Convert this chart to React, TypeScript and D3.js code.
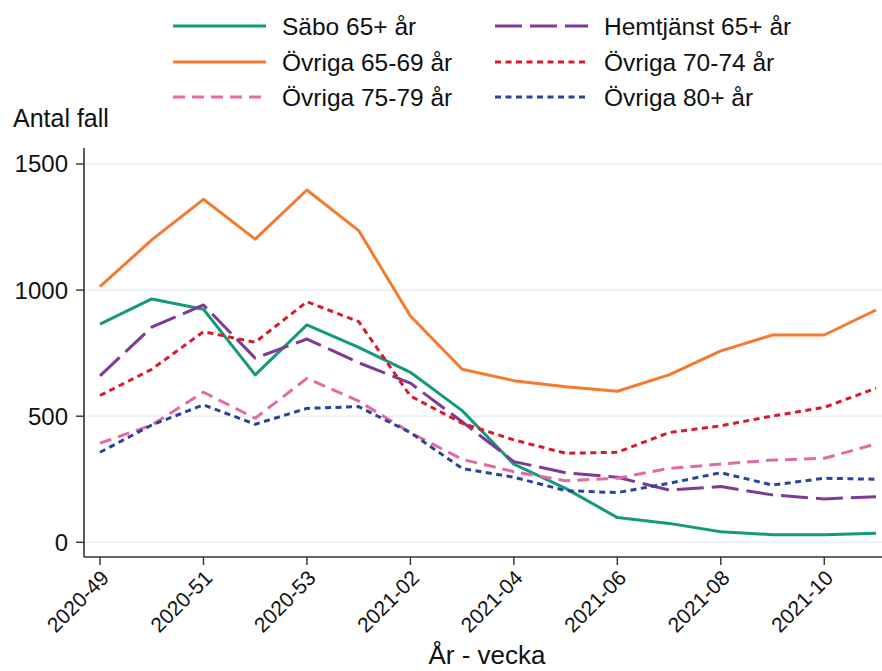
import React from "react";
import * as d3 from "d3";

const weeks = [
  "2020-49", "2020-50", "2020-51", "2020-52", "2020-53",
  "2021-01", "2021-02", "2021-03", "2021-04", "2021-05", "2021-06",
  "2021-07", "2021-08", "2021-09", "2021-10", "2021-11",
];
const tickWeeks = ["2020-49", "2020-51", "2020-53", "2021-02", "2021-04", "2021-06", "2021-08", "2021-10"];
const yTicks = [0, 500, 1000, 1500];

const sabo = [865, 965, 924, 664, 862, 773, 674, 522, 310, 214, 98, 75, 42, 30, 30, 36];
const hemtjanst = [660, 853, 941, 730, 806, 712, 631, 478, 320, 276, 258, 207, 221, 188, 172, 181];
const ovr6569 = [1014, 1199, 1360, 1202, 1397, 1236, 897, 686, 641, 617, 599, 664, 759, 822, 822, 921];
const ovr7074 = [582, 686, 835, 793, 954, 875, 580, 472, 406, 353, 357, 435, 462, 501, 535, 611];
const ovr7579 = [393, 465, 595, 492, 650, 560, 435, 329, 280, 244, 254, 293, 310, 326, 333, 390];
const ovr80 = [357, 465, 545, 468, 531, 538, 435, 293, 258, 205, 197, 234, 276, 227, 254, 250];

const seriesNames = ["Säbo 65+ år", "Hemtjänst 65+ år", "Övriga 65-69 år", "Övriga 70-74 år", "Övriga 75-79 år", "Övriga 80+ år"];
const seriesValues = [sabo, hemtjanst, ovr6569, ovr7074, ovr7579, ovr80];
const seriesColors = ["#16997a", "#7d3a96", "#f47a30", "#d81b2c", "#e46aa5", "#29449a"];
const seriesDash = ["", "27 8", "", "6 4.5", "12 7", "6 4.5"];

const FONT = "'Liberation Sans', Arial, sans-serif";

export default function App() {
  const W = 882, H = 671;
  const axisX = 84;
  const axisBottom = 557;
  const axisTop = 148;

  const x = d3.scalePoint<string>().domain(weeks).range([100, 876]);
  const y = d3.scaleLinear().domain([0, 1500]).range([542.3, 164]);

  const line = d3
    .line<number>()
    .x((_, i) => x(weeks[i]) as number)
    .y((d) => y(d));

  const legendOrder = [0, 1, 2, 3, 4, 5];
  const legendCols = [173, 495];
  const legendRows = [26, 62, 97];

  return (
    <svg
      width={W}
      height={H}
      style={{ position: "absolute", left: 0, top: 0, background: "#fff" }}
      fontFamily={FONT}
    >
      <rect x={0} y={0} width={W} height={H} fill="#fff" />
      {yTicks.map((t) => (
        <line key={"g" + t} x1={axisX} x2={W} y1={y(t)} y2={y(t)} stroke="#eaf2f3" strokeWidth={1.6} />
      ))}
      {seriesValues.map((vals, i) => (
        <path
          key={seriesNames[i]}
          d={line(vals) || ""}
          fill="none"
          stroke={seriesColors[i]}
          strokeWidth={3}
          strokeDasharray={seriesDash[i] || undefined}
          strokeLinejoin="round"
        />
      ))}
      <line x1={axisX} x2={axisX} y1={axisTop} y2={axisBottom} stroke="#333" strokeWidth={1.6} />
      {yTicks.map((t) => (
        <g key={"yt" + t}>
          <line x1={axisX - 8} x2={axisX} y1={y(t)} y2={y(t)} stroke="#333" strokeWidth={1.4} />
          <text x={axisX - 16} y={y(t)} dy="0.35em" textAnchor="end" fontSize={24} fill="#111">
            {t}
          </text>
        </g>
      ))}
      <text x={13} y={127} fontSize={25} fill="#111">Antal fall</text>
      <line x1={axisX} x2={W} y1={axisBottom} y2={axisBottom} stroke="#333" strokeWidth={1.6} />
      {tickWeeks.map((w) => {
        const px = x(w) as number;
        return (
          <g key={"xt" + w}>
            <line x1={px} x2={px} y1={axisBottom} y2={axisBottom + 8} stroke="#333" strokeWidth={1.4} />
            <text
              transform={`translate(${px + 5},${axisBottom + 17}) rotate(-45)`}
              textAnchor="end"
              dy="0.35em"
              fontSize={21}
              fill="#111"
            >
              {w}
            </text>
          </g>
        );
      })}
      <text x={(axisX + W) / 2 + 4} y={664} textAnchor="middle" fontSize={26} fill="#111">
        År - vecka
      </text>
      {legendOrder.map((si, k) => {
        const col = k % 2;
        const row = Math.floor(k / 2);
        const lx = legendCols[col];
        const ly = legendRows[row];
        return (
          <g key={"lg" + si}>
            <line
              x1={lx}
              x2={lx + 93}
              y1={ly}
              y2={ly}
              stroke={seriesColors[si]}
              strokeWidth={3}
              strokeDasharray={seriesDash[si] || undefined}
            />
            <text x={lx + 109} y={ly} dy="0.35em" fontSize={24.5} fill="#111">
              {seriesNames[si]}
            </text>
          </g>
        );
      })}
    </svg>
  );
}
